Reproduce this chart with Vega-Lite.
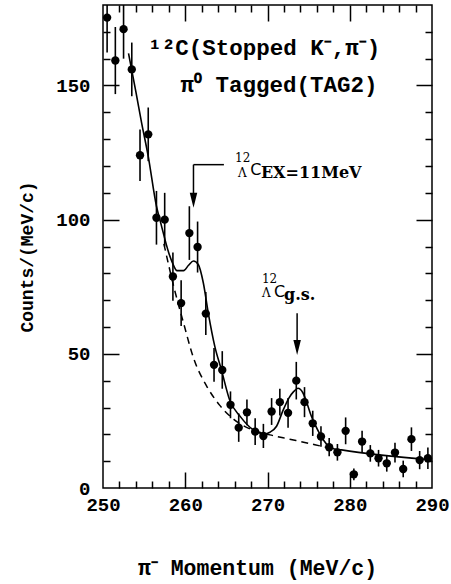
{
  "$schema": "https://vega.github.io/schema/vega-lite/v6.json",
  "width": 329,
  "height": 483,
  "autosize": {"type": "none"},
  "padding": {"left": 103, "top": 5, "right": 19, "bottom": 96},
  "background": "white",
  "config": {
    "view": {"stroke": "black", "strokeWidth": 1.5},
    "axis": {"grid": false, "domain": false, "tickColor": "black", "tickWidth": 1.5, "labelColor": "black", "titleColor": "black", "labelFont": "Liberation Mono", "labelFontSize": 19, "labelFontWeight": "bold"}
  },
  "datasets": {
    "pts": [
      {"p": 250.5, "c": 175.3, "lo": 162.3, "hi": 188.3},
      {"p": 251.5, "c": 159.3, "lo": 146.8, "hi": 171.8},
      {"p": 252.5, "c": 171, "lo": 160, "hi": 182},
      {"p": 253.5, "c": 156, "lo": 146, "hi": 166},
      {"p": 254.5, "c": 124, "lo": 114.4, "hi": 133.6},
      {"p": 255.5, "c": 131.8, "lo": 121.8, "hi": 141.8},
      {"p": 256.5, "c": 100.7, "lo": 90.7, "hi": 110.7},
      {"p": 257.5, "c": 100, "lo": 90, "hi": 110},
      {"p": 258.5, "c": 78.8, "lo": 69.8, "hi": 87.8},
      {"p": 259.5, "c": 68.9, "lo": 60.4, "hi": 77.4},
      {"p": 260.5, "c": 95, "lo": 85, "hi": 105},
      {"p": 261.5, "c": 89.8, "lo": 80.3, "hi": 99.3},
      {"p": 262.5, "c": 65, "lo": 57, "hi": 73},
      {"p": 263.5, "c": 45.9, "lo": 39.6, "hi": 52.2},
      {"p": 264.5, "c": 44, "lo": 37, "hi": 51},
      {"p": 265.5, "c": 31, "lo": 26, "hi": 36},
      {"p": 266.5, "c": 22.5, "lo": 17.2, "hi": 27.8},
      {"p": 267.5, "c": 28.2, "lo": 23.4, "hi": 33},
      {"p": 268.5, "c": 21, "lo": 16, "hi": 26},
      {"p": 269.5, "c": 19.4, "lo": 14.9, "hi": 23.9},
      {"p": 270.5, "c": 28.5, "lo": 23.5, "hi": 33.5},
      {"p": 271.5, "c": 32, "lo": 27, "hi": 37},
      {"p": 272.5, "c": 28, "lo": 22.5, "hi": 33.5},
      {"p": 273.5, "c": 40, "lo": 33, "hi": 47},
      {"p": 274.5, "c": 32, "lo": 26.4, "hi": 37.6},
      {"p": 275.5, "c": 24.1, "lo": 19.4, "hi": 28.8},
      {"p": 276.5, "c": 19.2, "lo": 15.4, "hi": 23},
      {"p": 277.5, "c": 15.2, "lo": 11.8, "hi": 18.6},
      {"p": 278.5, "c": 13.3, "lo": 10.2, "hi": 16.4},
      {"p": 279.5, "c": 21.3, "lo": 16.3, "hi": 26.3},
      {"p": 280.5, "c": 5.1, "lo": 2.9, "hi": 7.3},
      {"p": 281.5, "c": 17.3, "lo": 13.3, "hi": 21.3},
      {"p": 282.5, "c": 12.9, "lo": 9.8, "hi": 16},
      {"p": 283.5, "c": 11.1, "lo": 8, "hi": 14.2},
      {"p": 284.5, "c": 9.2, "lo": 6.1, "hi": 12.3},
      {"p": 285.5, "c": 13.2, "lo": 9.5, "hi": 16.9},
      {"p": 286.5, "c": 7.1, "lo": 4, "hi": 10.2},
      {"p": 287.5, "c": 18.2, "lo": 13.8, "hi": 22.6},
      {"p": 288.5, "c": 10.4, "lo": 7, "hi": 13.8},
      {"p": 289.5, "c": 11.1, "lo": 7.1, "hi": 15.1}
    ],
    "fit": [
      {"p": 253.1, "c": 162}, {"p": 254.0, "c": 147.6}, {"p": 254.7, "c": 136}, {"p": 255.5, "c": 123.6},
      {"p": 256.5, "c": 105}, {"p": 257.0, "c": 99}, {"p": 258.0, "c": 87.6}, {"p": 258.5, "c": 83.5},
      {"p": 259.0, "c": 81}, {"p": 259.8, "c": 81}, {"p": 260.4, "c": 83}, {"p": 261.0, "c": 84.6},
      {"p": 261.6, "c": 83.2}, {"p": 262.2, "c": 76.4}, {"p": 262.8, "c": 65.2}, {"p": 263.6, "c": 52.7},
      {"p": 264.4, "c": 44}, {"p": 265.4, "c": 32.8}, {"p": 266.7, "c": 26.6}, {"p": 268.3, "c": 21.6},
      {"p": 269.6, "c": 20.2}, {"p": 270.3, "c": 20.8}, {"p": 271.1, "c": 23}, {"p": 271.9, "c": 29},
      {"p": 272.6, "c": 33.5}, {"p": 273.2, "c": 36}, {"p": 273.7, "c": 37.2}, {"p": 274.3, "c": 35.5},
      {"p": 274.8, "c": 31.6}, {"p": 275.3, "c": 27}, {"p": 275.8, "c": 23.5}, {"p": 276.8, "c": 17.9},
      {"p": 277.8, "c": 14.8}, {"p": 279.0, "c": 14.2}, {"p": 290.0, "c": 10.4}
    ],
    "bg": [
      {"p": 257.4, "c": 91}, {"p": 258.6, "c": 75.1}, {"p": 259.8, "c": 61.4}, {"p": 261.0, "c": 48.5},
      {"p": 262.6, "c": 38}, {"p": 264.2, "c": 30.8}, {"p": 265.9, "c": 25.6}, {"p": 267.9, "c": 22},
      {"p": 270.3, "c": 19.8}, {"p": 272.7, "c": 18.2}, {"p": 274.8, "c": 16.8}, {"p": 276.8, "c": 15.4},
      {"p": 278.0, "c": 14.6}
    ],
    "titles": [
      {"p": 269.6, "c": 161.4, "t": "¹²C(Stopped K⁻,π⁻)"},
      {"p": 271.4, "c": 147.7, "t": "π⁰ Tagged(TAG2)"}
    ],
    "bigC": [
      {"p": 267.9, "c": 116.7, "t": "C"},
      {"p": 270.8, "c": 71.2, "t": "C"}
    ],
    "small": [
      {"p": 266.05, "c": 121.4, "t": "12"},
      {"p": 266.4, "c": 116.0, "t": "Λ"},
      {"p": 269.33, "c": 76.4, "t": "12"},
      {"p": 269.33, "c": 71.3, "t": "Λ"}
    ],
    "subs": [
      {"p": 269.2, "c": 115.4, "t": "EX=11MeV"},
      {"p": 272.0, "c": 70.2, "t": "g.s."}
    ],
    "segs": [
      {"p": 261.0, "c": 120.5, "p2": 264.7, "c2": 120.5},
      {"p": 261.0, "c": 120.5, "p2": 261.0, "c2": 107.5},
      {"p": 273.6, "c": 65.1, "p2": 273.6, "c2": 53}
    ],
    "heads": [
      {"p": 261.0, "c": 107.2},
      {"p": 273.6, "c": 52.4}
    ]
  },
  "layer": [
    {
      "data": {"name": "pts"},
      "mark": {"type": "point", "filled": true, "shape": "circle", "size": 70, "color": "black", "opacity": 1},
      "encoding": {
        "x": {"field": "p", "type": "quantitative", "scale": {"domain": [250, 290], "nice": false, "zero": false},
          "axis": {"orient": "bottom", "values": [250, 260, 270, 280, 290], "ticks": false, "labelPadding": 7, "labelFlush": false,
            "title": "π⁻ Momentum (MeV/c)", "titleFont": "Liberation Mono", "titleFontSize": 21.5, "titleFontWeight": "bold",
            "titleX": 154, "titleY": 86, "titleBaseline": "alphabetic", "titleAlign": "center"}},
        "y": {"field": "c", "type": "quantitative", "scale": {"domain": [0, 180], "nice": false, "zero": false},
          "axis": {"orient": "left", "values": [0, 50, 100, 150], "ticks": false, "labelPadding": 13, "labelFlush": false,
            "title": "Counts/(MeV/c)", "titleFont": "Liberation Mono", "titleFontSize": 18, "titleFontWeight": "bold",
            "titleX": -71, "titleY": 251.5, "titleAngle": -90, "titleBaseline": "alphabetic", "titleAlign": "center"}}
      }
    },
    {
      "data": {"name": "pts"},
      "mark": {"type": "rule", "color": "black", "strokeWidth": 1.6, "clip": true},
      "encoding": {
        "x": {"field": "p", "type": "quantitative", "scale": {"domain": [250, 290], "nice": false, "zero": false},
          "axis": {"orient": "bottom", "values": [260, 270, 280], "tickSize": -16, "labels": false, "title": null}},
        "y": {"field": "lo", "type": "quantitative", "scale": {"domain": [0, 180], "nice": false, "zero": false},
          "axis": {"orient": "left", "values": [50, 100, 150], "tickSize": -16, "labels": false, "title": null}},
        "y2": {"field": "hi"}
      }
    },
    {
      "data": {"name": "fit"},
      "mark": {"type": "line", "color": "black", "strokeWidth": 1.6, "interpolate": "monotone"},
      "encoding": {
        "x": {"field": "p", "type": "quantitative", "scale": {"domain": [250, 290], "nice": false, "zero": false},
          "axis": {"orient": "bottom", "values": [252, 254, 256, 258, 262, 264, 266, 268, 272, 274, 276, 278, 282, 284, 286, 288], "tickSize": -7, "labels": false, "title": null}},
        "y": {"field": "c", "type": "quantitative", "scale": {"domain": [0, 180], "nice": false, "zero": false},
          "axis": {"orient": "left", "values": [10, 20, 30, 40, 60, 70, 80, 90, 110, 120, 130, 140, 160, 170], "tickSize": -7, "labels": false, "title": null}}
      }
    },
    {
      "data": {"name": "bg"},
      "mark": {"type": "line", "color": "black", "strokeWidth": 1.5, "strokeDash": [7, 5], "interpolate": "monotone"},
      "encoding": {
        "x": {"field": "p", "type": "quantitative", "scale": {"domain": [250, 290], "nice": false, "zero": false},
          "axis": {"orient": "top", "values": [260, 270, 280], "tickSize": -16, "labels": false, "title": null}},
        "y": {"field": "c", "type": "quantitative", "scale": {"domain": [0, 180], "nice": false, "zero": false},
          "axis": {"orient": "right", "values": [50, 100, 150], "tickSize": -16, "labels": false, "title": null}}
      }
    },
    {
      "data": {"name": "titles"},
      "mark": {"type": "text", "font": "Liberation Mono", "fontSize": 22.5, "fontWeight": "bold", "align": "center", "baseline": "alphabetic", "color": "black"},
      "encoding": {
        "x": {"field": "p", "type": "quantitative", "scale": {"domain": [250, 290], "nice": false, "zero": false},
          "axis": {"orient": "top", "values": [252, 254, 256, 258, 262, 264, 266, 268, 272, 274, 276, 278, 282, 284, 286, 288], "tickSize": -7, "labels": false, "title": null}},
        "y": {"field": "c", "type": "quantitative", "scale": {"domain": [0, 180], "nice": false, "zero": false},
          "axis": {"orient": "right", "values": [10, 20, 30, 40, 60, 70, 80, 90, 110, 120, 130, 140, 160, 170], "tickSize": -7, "labels": false, "title": null}},
        "text": {"field": "t"}
      }
    },
    {
      "data": {"name": "bigC"},
      "mark": {"type": "text", "font": "DejaVu Sans", "fontSize": 16, "align": "left", "baseline": "alphabetic", "color": "black"},
      "encoding": {
        "x": {"field": "p", "type": "quantitative", "scale": {"domain": [250, 290], "nice": false, "zero": false}, "axis": null},
        "y": {"field": "c", "type": "quantitative", "scale": {"domain": [0, 180], "nice": false, "zero": false}, "axis": null},
        "text": {"field": "t"}
      }
    },
    {
      "data": {"name": "small"},
      "mark": {"type": "text", "font": "DejaVu Serif", "fontSize": 12, "align": "left", "baseline": "alphabetic", "color": "black"},
      "encoding": {
        "x": {"field": "p", "type": "quantitative", "scale": {"domain": [250, 290], "nice": false, "zero": false}, "axis": null},
        "y": {"field": "c", "type": "quantitative", "scale": {"domain": [0, 180], "nice": false, "zero": false}, "axis": null},
        "text": {"field": "t"}
      }
    },
    {
      "data": {"name": "subs"},
      "mark": {"type": "text", "font": "DejaVu Serif", "fontSize": 16, "fontWeight": "bold", "align": "left", "baseline": "alphabetic", "color": "black"},
      "encoding": {
        "x": {"field": "p", "type": "quantitative", "scale": {"domain": [250, 290], "nice": false, "zero": false}, "axis": null},
        "y": {"field": "c", "type": "quantitative", "scale": {"domain": [0, 180], "nice": false, "zero": false}, "axis": null},
        "text": {"field": "t"}
      }
    },
    {
      "data": {"name": "segs"},
      "mark": {"type": "rule", "color": "black", "strokeWidth": 1.5},
      "encoding": {
        "x": {"field": "p", "type": "quantitative", "scale": {"domain": [250, 290], "nice": false, "zero": false}, "axis": null},
        "y": {"field": "c", "type": "quantitative", "scale": {"domain": [0, 180], "nice": false, "zero": false}, "axis": null},
        "x2": {"field": "p2"},
        "y2": {"field": "c2"}
      }
    },
    {
      "data": {"name": "heads"},
      "mark": {"type": "point", "filled": true, "shape": "M-0.5,-1L0.5,-1L0,1Z", "size": 225, "color": "black", "opacity": 1},
      "encoding": {
        "x": {"field": "p", "type": "quantitative", "scale": {"domain": [250, 290], "nice": false, "zero": false}, "axis": null},
        "y": {"field": "c", "type": "quantitative", "scale": {"domain": [0, 180], "nice": false, "zero": false}, "axis": null}
      }
    }
  ],
  "resolve": {"axis": {"x": "independent", "y": "independent"}}
}
